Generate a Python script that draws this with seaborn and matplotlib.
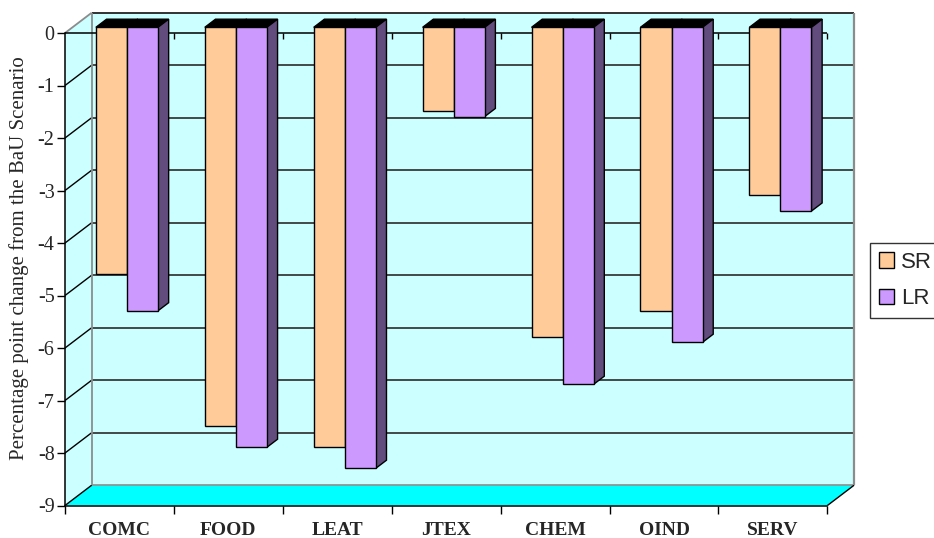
import matplotlib
matplotlib.use("Agg")
import matplotlib.pyplot as plt
import numpy as np
import pandas as pd
import seaborn as sns
from matplotlib.patches import Polygon, Patch

# ---- data -------------------------------------------------------------
sectors = ["COMC", "FOOD", "LEAT", "JTEX", "CHEM", "OIND", "SERV"]
scenarios = ["SR", "LR"]
sr_change = [-4.7, -7.6, -8.0, -1.6, -5.9, -5.4, -3.2]
lr_change = [-5.4, -8.0, -8.4, -1.7, -6.8, -6.0, -3.5]
y_ticks = list(range(-9, 1))
y_label = "Percentage point change from the BaU Scenario"

df = pd.DataFrame({
    "sector": sectors * 2,
    "scenario": ["SR"] * len(sectors) + ["LR"] * len(sectors),
    "change": sr_change + lr_change,
})

# ---- styling ----------------------------------------------------------
face_colors = {"SR": "#FFCC99", "LR": "#CC99FF"}
side_colors = {"SR": "#7F664C", "LR": "#624C7E"}
wall_color = "#CCFFFF"
floor_color = "#00FFFF"
grid_color = "#2A2A2A"
edge_gray = "#8C8C8C"

sns.set_theme(style="white")
plt.rcParams["font.family"] = ["Liberation Serif", "DejaVu Serif"]

W, H = 934, 538
fig = plt.figure(figsize=(W / 100, H / 100), dpi=100)
fig.patch.set_facecolor("white")
# front plane of the 3-D box, in pixels
x_left, x_right, y_top, y_bot = 65.0, 827.4, 33.0, 505.5
ax = fig.add_axes([x_left / W, 1 - y_bot / H,
                   (x_right - x_left) / W, (y_bot - y_top) / H])
ax.set_facecolor("none")

sns.barplot(data=df, x="sector", y="change", hue="scenario",
            order=sectors, hue_order=scenarios, palette=face_colors,
            width=0.57, saturation=1, edgecolor="black", linewidth=1.0,
            legend=False, ax=ax, zorder=3)

x0, x1 = -0.5, len(sectors) - 0.5
y0, y1 = y_ticks[0], y_ticks[-1]
ax.set_xlim(x0, x1)
ax.set_ylim(y0, y1)

# oblique depth vector (pixels -> data units)
px_per_x = (x_right - x_left) / (x1 - x0)
px_per_y = (y_bot - y_top) / (y1 - y0)
DX = 26.7 / px_per_x
DY = 20.3 / px_per_y
BAR_FRONT = 0.28   # depth position of bar front faces
BAR_DEPTH = 0.40   # bar thickness along the depth axis


def poly(points, fc, ec="none", lw=0.0, z=1.0):
    p = Polygon(points, closed=True, facecolor=fc, edgecolor=ec,
                linewidth=lw, zorder=z, clip_on=False, joinstyle="miter")
    ax.add_patch(p)
    return p


def line(xs, ys, color, lw=1.0, z=1.2):
    ax.plot(xs, ys, color=color, lw=lw, zorder=z, clip_on=False,
            solid_capstyle="butt")


# back wall and left wall
poly([(x0 + DX, y0 + DY), (x1 + DX, y0 + DY), (x1 + DX, y1 + DY),
      (x0 + DX, y1 + DY)], wall_color, z=0.5)
poly([(x0, y0), (x0 + DX, y0 + DY), (x0 + DX, y1 + DY), (x0, y1)],
     wall_color, z=0.5)

# gridlines on the back wall and the matching diagonals on the side wall
for v in y_ticks[1:-1]:
    line([x0 + DX, x1 + DX], [v + DY, v + DY], grid_color, 1.2)
    line([x0, x0 + DX], [v, v + DY], "black", 1.0)
line([x0 + DX, x1 + DX], [y1 + DY, y1 + DY], "#222222", 1.3)
line([x0, x0 + DX], [y1, y1 + DY], edge_gray, 1.3)
line([x0 + DX, x0 + DX], [y0 + DY, y1 + DY], edge_gray, 1.3)
line([x1 + DX, x1 + DX], [y0 + DY, y1 + DY], edge_gray, 1.6)

# floor
poly([(x0, y0), (x1, y0), (x1 + DX, y0 + DY), (x0 + DX, y0 + DY)],
     floor_color, z=0.6)
line([x0 + DX, x1 + DX], [y0 + DY, y0 + DY], edge_gray, 1.2, z=0.7)
line([x0, x0 + DX], [y0, y0 + DY], "black", 1.0, z=0.7)
line([x1, x1 + DX], [y0, y0 + DY], "black", 1.0, z=0.7)

# category axis along the zero level, with downward ticks
tick_len = 5.5 / px_per_y
line([x0, x1], [0, 0], "black", 1.1, z=1.5)
for b in np.arange(x0 + 1, x1 + 0.01, 1.0):
    line([b, b], [0, -tick_len], "black", 1.0, z=1.5)

# turn the flat seaborn bars into 3-D blocks
for scen, cont in zip(scenarios, ax.containers):
    for rect in cont.patches:
        bx = rect.get_x() + BAR_FRONT * DX
        by = BAR_FRONT * DY
        h = rect.get_height()
        w = rect.get_width()
        rect.set_x(bx)
        rect.set_y(by)
        rect.set_clip_on(False)
        rect.set_zorder(3 if scen == "SR" else 3.2)
        dx, dy = BAR_DEPTH * DX, BAR_DEPTH * DY
        # top end (at zero level)
        poly([(bx, by), (bx + w, by), (bx + w + dx, by + dy), (bx + dx, by + dy)],
             "black", "black", 1.0, z=2.8 if scen == "SR" else 3.0)
        # right side
        poly([(bx + w, by), (bx + w + dx, by + dy), (bx + w + dx, by + h + dy),
              (bx + w, by + h)], side_colors[scen], "black", 1.0,
             z=2.8 if scen == "SR" else 3.0)

# axes decoration
for s in ["top", "right"]:
    ax.spines[s].set_visible(False)
for s in ["left", "bottom"]:
    ax.spines[s].set_color("black")
    ax.spines[s].set_linewidth(1.1)
    ax.spines[s].set_zorder(1.6)

ax.set_yticks(y_ticks)
ax.set_yticklabels([str(t) for t in y_ticks])
ax.tick_params(axis="y", direction="out", length=6, width=1, color="black",
               labelsize=14.5, pad=1.5, left=True)
ax.set_xticks(range(len(sectors)))
ax.set_xticklabels(sectors, fontweight="bold")
ax.set_xticks(np.arange(x0, x1 + 0.01, 1.0), minor=True)
ax.tick_params(axis="x", which="major", length=0, labelsize=14, pad=12)
ax.tick_params(axis="x", which="minor", direction="out", length=6, width=1,
               color="black", bottom=True)
ax.set_xlabel("")
ax.set_ylabel("")
ax.grid(False)

fig.text(19 / W, 1 - 258 / H, y_label, rotation=90, ha="center", va="center",
         fontsize=15, family=["Liberation Serif"])

handles = [Patch(facecolor=face_colors[s], edgecolor="black", linewidth=1,
                 label=s) for s in scenarios]
leg = fig.legend(handles=handles, loc="upper left",
                 bbox_to_anchor=(870 / W, 1 - 242.7 / H),
                 bbox_transform=fig.transFigure, frameon=True, fancybox=False,
                 edgecolor="black", borderaxespad=0, borderpad=0.4,
                 handlelength=0.7, handleheight=0.7, handletextpad=0.3,
                 labelspacing=0.7,
                 prop={"family": "Liberation Sans", "size": 16})
leg.get_frame().set_linewidth(1.0)

fig.savefig("out.png", dpi=100, facecolor="white")
